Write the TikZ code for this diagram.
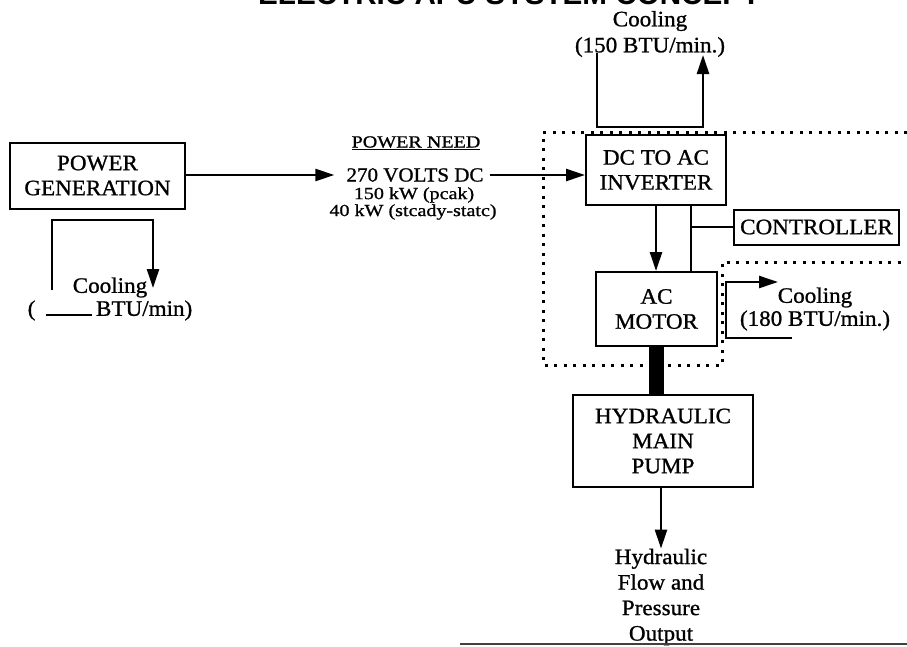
\documentclass[tikz,border=0pt]{standalone}
\usepackage{graphicx}
\usepackage{fontspec}
\setmainfont[FakeStretch=1.05,FakeBold=1]{Liberation Serif}
\newfontfamily\widefont[FakeStretch=1.18,FakeBold=1]{Liberation Serif}
\newfontfamily\titlefont{Liberation Sans}
\usetikzlibrary{arrows.meta}
\begin{document}
\begin{tikzpicture}[x=1pt,y=-1pt,
  box/.style={draw,line width=2pt,inner sep=0pt,align=center,font=\fontsize{22}{25}\selectfont},
  lbl/.style={align=center,inner sep=0pt,font=\fontsize{22}{23}\selectfont},
  small/.style={inner sep=0pt,font=\widefont\fontsize{17}{20}\selectfont},
  conn/.style={line width=2.5pt},
  arr/.style={conn,-{Triangle[length=19pt,width=12pt]}},
  sysline/.style={line width=3pt,dash pattern=on 3pt off 6.5pt},
  shaft/.style={line width=15pt}
]
\useasboundingbox (0,0) rectangle (907,646);

% clipped title
\node[anchor=base west,inner sep=0pt] (title) at (258,4)
  {\resizebox{502pt}{!}{\titlefont\bfseries ELECTRIC APU SYSTEM CONCEPT}};

% boxes
\node[box,minimum width=175pt,minimum height=66pt] (pg) at (97.5,175.5) {POWER\\GENERATION};
\node[box,minimum width=140pt,minimum height=70pt] (inv) at (656,170) {DC TO AC\\INVERTER};
\node[box,minimum width=165pt,minimum height=35pt] (ctrl) at (816.5,227) {CONTROLLER};
\node[box,minimum width=121pt,minimum height=74pt] (mot) at (656.5,309) {AC\\MOTOR};
\node[box,minimum width=180pt,minimum height=92pt] (pump) at (663,441) {HYDRAULIC\\MAIN\\PUMP};

% power need text
\node[small] (need) at (416,143) {\underline{POWER NEED}};
\node[inner sep=0pt,font=\fontsize{20}{22}\selectfont] (volts) at (415,175) {270 VOLTS DC};
\node[small] (pk) at (414,195) {150 kW (pcak)};
\node[small] (ss) at (413,212) {40 kW (stcady-statc)};

\draw[arr,shorten >=12pt] (pg.east |- volts.west) -- (volts.west);
\draw[arr] ([xshift=6pt]volts.east) -- (volts.east -| inv.west);

% system boundary (dotted)
\draw[sysline] (907,132) -- (543,132) -- (543,365) -- (722,365) -- (722,262) -- (907,262);

% inverter cooling loop
\coordinate (ic1) at (597,53);
\coordinate (icb) at (650,127);
\coordinate (ic2) at (703,55);
\draw[arr] (ic1) |- (icb) -| (ic2);
\node[lbl,font=\fontsize{22}{26}\selectfont] (icool) at (650,34) {Cooling\\(150 BTU/min.)};

% power generation cooling loop
\coordinate (pc1) at (52,290);
\coordinate (pcb) at (100,220);
\coordinate (pc2) at (153,288);
\draw[arr] (pc1) |- (pcb) -| (pc2);
\node[lbl] (pcool) at (110,299) {Cooling\\(\enspace\rule{46pt}{1.3pt}\,BTU/min)};

% inverter -> motor, controller bus
\draw[arr] (inv.south) -- (inv.south |- mot.north);
\coordinate (bus) at (691,227);
\draw[conn] (bus |- inv.south) -- (bus |- mot.north);
\draw[conn] (bus) -- (ctrl.west);

% motor cooling loop
\coordinate (mc1) at (792,338);
\coordinate (mcc) at (726,310);
\coordinate (mc2) at (778,282);
\draw[arr] (mc1) -| (mcc) |- (mc2);
\node[lbl] (mcool) at (815,309) {Cooling\\(180 BTU/min.)};

% shaft motor -> pump
\draw[shaft] (mot.south) -- (mot.south |- pump.north);

% pump output
\node[lbl,font=\fontsize{22}{25.5}\selectfont] (out) at (661,597) {Hydraulic\\Flow and\\Pressure\\Output};
\draw[arr] (pump.south -| out.north) -- (out.north);

% page rule at bottom
\draw[line width=2pt,black!75] (460,643.5) -- (907,643.5);
\end{tikzpicture}
\end{document}
